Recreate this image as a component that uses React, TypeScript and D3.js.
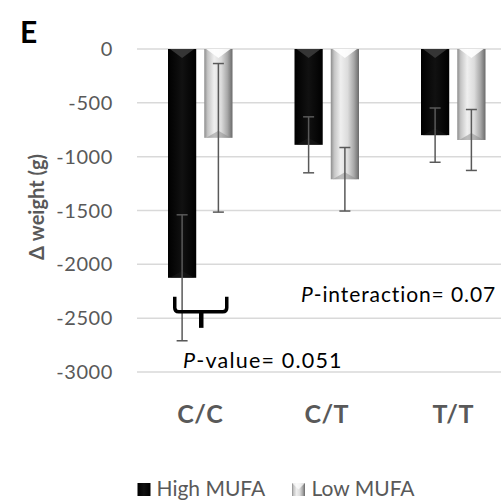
import React from "react";
import * as d3 from "d3";

const categories = ["C/C", "C/T", "T/T"];
const seriesNames = ["High MUFA", "Low MUFA"];
const highMufa = [-2125, -890, -800];
const lowMufa = [-825, -1210, -845];
const highErr = [585, 260, 252];
const lowErr = [690, 295, 283];
const yTicks = [0, -500, -1000, -1500, -2000, -2500, -3000];

const W = 501;
const H = 500;
const FONT = "Lato, 'Open Sans', sans-serif";
const GRAY = "#595959";

export default function App() {
  const x = d3.scaleBand<string>().domain(categories).range([137, 516.5]).padding(0);
  const inner = d3
    .scaleBand<string>()
    .domain(seriesNames)
    .range([31, x.bandwidth() - 31])
    .paddingInner(0.222);
  const y = d3.scaleLinear().domain([-3000, 0]).range([372, 49]);

  const series = [
    { name: seriesNames[0], vals: highMufa, errs: highErr, fill: "url(#gHigh)", top: "#3a3a3a", bot: "#1c1c1c" },
    { name: seriesNames[1], vals: lowMufa, errs: lowErr, fill: "url(#gLow)", top: "#ffffff", bot: "#8a8a8a" },
  ];

  const bw = inner.bandwidth();
  const bev = 7;

  // bracket annotation under C/C
  const ccx = (x("C/C") as number) + x.bandwidth() / 2;
  const bl = ccx - 25.5;
  const br = ccx + 26.5;
  const yTop = y(-2300);
  const yMid = y(-2440);
  const yStem = y(-2590);
  const bracket = `M${bl},${yTop} L${bl},${yMid - 4} Q${bl},${yMid} ${bl + 4},${yMid} L${br - 4},${yMid} Q${br},${yMid} ${br},${yMid - 4} L${br},${yTop}`;

  return (
    <svg width={W} height={H} style={{ display: "block", position: "absolute", left: 0, top: 0, background: "#fff" }}>
      <defs>
        <linearGradient id="gHigh" x1="0" x2="1" y1="0" y2="0">
          <stop offset="0" stopColor="#000" />
          <stop offset="0.5" stopColor="#111" />
          <stop offset="1" stopColor="#000" />
        </linearGradient>
        <linearGradient id="gLow" x1="0" x2="1" y1="0" y2="0">
          <stop offset="0" stopColor="#8c8c8c" />
          <stop offset="0.12" stopColor="#c4c4c4" />
          <stop offset="0.35" stopColor="#efefef" />
          <stop offset="0.6" stopColor="#dcdcdc" />
          <stop offset="0.82" stopColor="#a8a8a8" />
          <stop offset="1" stopColor="#6a6a6a" />
        </linearGradient>
      </defs>
      <rect x={0} y={0} width={W} height={H} fill="#fff" />

      {/* gridlines */}
      {yTicks.map((t) => (
        <line key={"g" + t} x1={137} x2={516.5} y1={y(t)} y2={y(t)} stroke="#d9d9d9" strokeWidth={1.5} />
      ))}

      {/* tick labels */}
      {yTicks.map((t) => (
        <text key={"t" + t} x={113} y={y(t)} dy="0.35em" textAnchor="end" fontFamily={FONT} fontSize={20} letterSpacing={0.6} fill={GRAY}>
          {t}
        </text>
      ))}

      {/* bars */}
      {series.map((s) =>
        categories.map((c, i) => {
          const x0 = (x(c) as number) + (inner(s.name) as number);
          const x1 = x0 + bw;
          const y0 = y(0);
          const y1 = y(s.vals[i]);
          const cx = x0 + bw / 2;
          return (
            <g key={s.name + c}>
              <rect x={x0} y={y0} width={bw} height={y1 - y0} fill={s.fill} />
              <polygon points={`${x0 + 2},${y0} ${x1 - 2},${y0} ${cx},${y0 + bev + 2}`} fill={s.top} opacity={0.9} />
              <polygon points={`${x0 + 2},${y1} ${x1 - 2},${y1} ${cx},${y1 - bev}`} fill={s.bot} opacity={0.5} />
            </g>
          );
        })
      )}

      {/* error bars */}
      {series.map((s) =>
        categories.map((c, i) => {
          const cx = (x(c) as number) + (inner(s.name) as number) + bw / 2;
          const yt = y(s.vals[i] + s.errs[i]);
          const yb = y(s.vals[i] - s.errs[i]);
          return (
            <g key={"e" + s.name + c} stroke={GRAY} strokeWidth={1.5}>
              <line x1={cx} x2={cx} y1={yt} y2={yb} />
              <line x1={cx - 5.5} x2={cx + 5.5} y1={yt} y2={yt} />
              <line x1={cx - 5.5} x2={cx + 5.5} y1={yb} y2={yb} />
            </g>
          );
        })
      )}

      {/* bracket */}
      <path d={bracket} fill="none" stroke="#000" strokeWidth={3.5} />
      <path d={`M${ccx + 1},${yMid} L${ccx + 1},${yStem}`} stroke="#000" strokeWidth={4.5} />

      {/* annotations */}
      <text x={183} y={368} fontFamily={FONT} fontSize={21.5} letterSpacing={1.2} fill="#000">
        <tspan fontStyle="italic">P</tspan>-value= 0.051
      </text>
      <text x={301} y={302} fontFamily={FONT} fontSize={21} letterSpacing={0.9} fill="#000">
        <tspan fontStyle="italic">P</tspan>-interaction= 0.07
      </text>

      {/* category labels */}
      {categories.map((c) => (
        <text key={"c" + c} x={(x(c) as number) + x.bandwidth() / 2} y={422.5} textAnchor="middle" fontFamily={FONT} fontWeight="bold" fontSize={25} letterSpacing={0.5} fill={GRAY}>
          {c}
        </text>
      ))}

      {/* y axis title */}
      <text transform={`translate(44,207) rotate(-90)`} textAnchor="middle" fontFamily={FONT} fontWeight="bold" fontSize={20} fill={GRAY}>
        Δ weight (g)
      </text>

      {/* panel letter */}
      <text x={20} y={43} fontFamily={FONT} fontWeight="bold" fontSize={30} fill="#000">
        E
      </text>

      {/* legend */}
      <g>
        <rect x={137.5} y={483} width={13} height={13} fill="url(#gHigh)" />
        <text x={156.5} y={496} fontFamily={FONT} fontSize={21} fill={GRAY}>
          {seriesNames[0]}
        </text>
        <rect x={292} y={483} width={13} height={13} fill="url(#gLow)" />
        <polygon points="292,483 305,483 298.5,489.5" fill="#fff" opacity={0.7} />
        <text x={311.5} y={496} fontFamily={FONT} fontSize={21} fill={GRAY}>
          {seriesNames[1]}
        </text>
      </g>
    </svg>
  );
}
